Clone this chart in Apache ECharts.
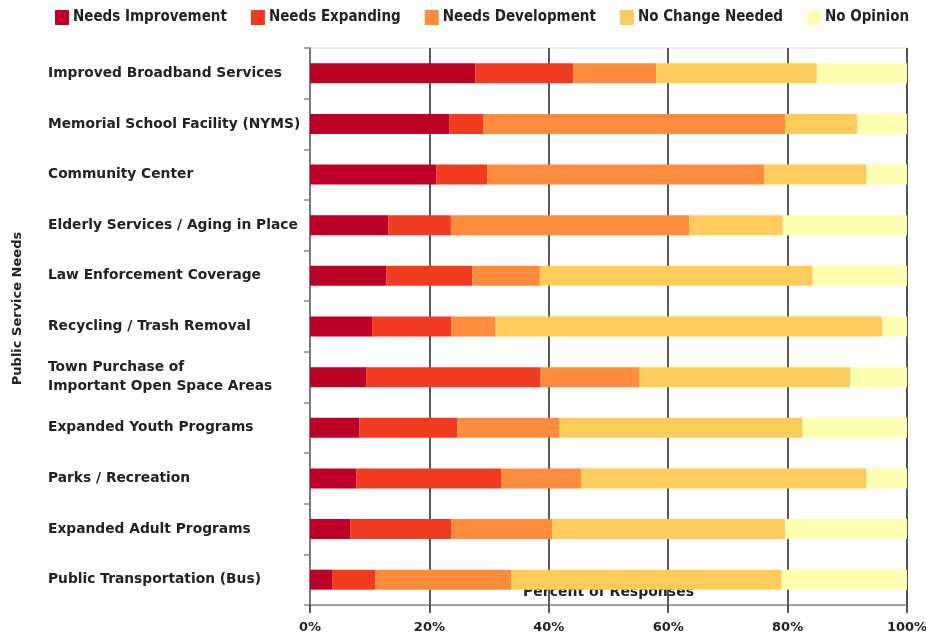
<!DOCTYPE html>
<html>
<head>
<meta charset="utf-8">
<script src="https://cdn.jsdelivr.net/npm/echarts@6/dist/echarts.min.js"></script>
<style>
  html, body { margin: 0; padding: 0; background: #fff; }
  #chart { width: 926px; height: 635px; }
</style>
</head>
<body>
<div id="chart"></div>
<script>
// categories, top to bottom
const categories = [
  'Improved Broadband Services',
  'Memorial School Facility (NYMS)',
  'Community Center',
  'Elderly Services / Aging in Place',
  'Law Enforcement Coverage',
  'Recycling / Trash Removal',
  'Town Purchase of\nImportant Open Space Areas',
  'Expanded Youth Programs',
  'Parks / Recreation',
  'Expanded Adult Programs',
  'Public Transportation (Bus)'
];

// percent of responses
const needsImprovement = [27.7, 23.4, 21.2, 13.1, 12.8, 10.4, 9.4, 8.3, 7.8, 6.8, 3.7];
const needsExpanding   = [16.4, 5.6, 8.5, 10.5, 14.4, 13.3, 29.2, 16.4, 24.2, 16.9, 7.2];
const needsDevelopment = [13.9, 50.6, 46.4, 39.9, 11.3, 7.4, 16.6, 17.1, 13.4, 16.9, 22.8];
const noChangeNeeded   = [26.9, 12.1, 17.1, 15.7, 45.7, 64.8, 35.3, 40.7, 47.8, 39.0, 45.3];
const noOpinion        = [15.1, 8.3, 6.8, 20.8, 15.8, 4.1, 9.5, 17.5, 6.8, 20.4, 21.0];

const xTicks = [0, 20, 40, 60, 80, 100];

const seriesNames = ['Needs Improvement', 'Needs Expanding', 'Needs Development', 'No Change Needed', 'No Opinion'];
const seriesData = [needsImprovement, needsExpanding, needsDevelopment, noChangeNeeded, noOpinion];
const colors = ['#bd0026', '#f03b20', '#fd8d3c', '#fecc5c', '#ffffb2'];

const chart = echarts.init(document.getElementById('chart'));

const option = {
  animation: false,
  color: colors,
  legend: {
    top: 10,
    left: 55,
    padding: 0,
    itemWidth: 14,
    itemHeight: 15,
    itemGap: 24,
    icon: 'rect',
    textStyle: { fontFamily: 'DejaVu Sans Condensed', fontWeight: 'bold', fontSize: 15, color: '#222', padding: [1, 0, 0, -1] },
    data: seriesNames
  },
  grid: {
    left: 310,
    right: 19,
    top: 48,
    bottom: 30,
    outerBoundsMode: 'none',
    containLabel: false,
    show: true,
    borderColor: '#d8d8d8',
    borderWidth: 1
  },
  xAxis: {
    type: 'value',
    min: 0,
    max: 100,
    interval: 20,
    name: 'Percent of Responses',
    nameLocation: 'middle',
    nameGap: -20,
    nameMoveOverlap: false,
    nameTextStyle: { fontFamily: 'DejaVu Sans', fontWeight: 'bold', fontSize: 14, color: '#222' },
    axisLine: { show: true, lineStyle: { color: '#888', width: 1.5 } },
    axisTick: { show: true, length: 8, lineStyle: { color: '#222', width: 1.5 } },
    axisLabel: {
      margin: 16,
      fontFamily: 'DejaVu Sans',
      fontWeight: 'bold',
      fontSize: 13,
      color: '#222',
      formatter: function (v) { return xTicks.indexOf(v) >= 0 ? v + '%' : ''; }
    },
    splitLine: { show: true, lineStyle: { color: '#222', width: 1.5 } }
  },
  yAxis: {
    type: 'category',
    inverse: true,
    data: categories,
    name: 'Public Service Needs',
    nameLocation: 'middle',
    nameGap: 286,
    nameMoveOverlap: false,
    nameTextStyle: { fontFamily: 'DejaVu Sans', fontWeight: 'bold', fontSize: 13, color: '#222', padding: [0, 0, 0, 36] },
    axisLine: { show: true, lineStyle: { color: '#888', width: 1.5 } },
    axisTick: { show: true, length: 6, lineStyle: { color: '#888', width: 1.5 } },
    axisLabel: {
      align: 'left',
      margin: 262,
      fontFamily: 'DejaVu Sans',
      fontWeight: 'bold',
      fontSize: 13.8,
      lineHeight: 19,
      color: '#222',
      padding: [2, 0, 0, 0]
    },
    splitLine: { show: false }
  },
  series: seriesNames.map(function (name, i) {
    return {
      name: name,
      type: 'bar',
      stack: 'total',
      barWidth: 20,
      data: seriesData[i]
    };
  })
};

chart.setOption(option);
</script>
</body>
</html>
